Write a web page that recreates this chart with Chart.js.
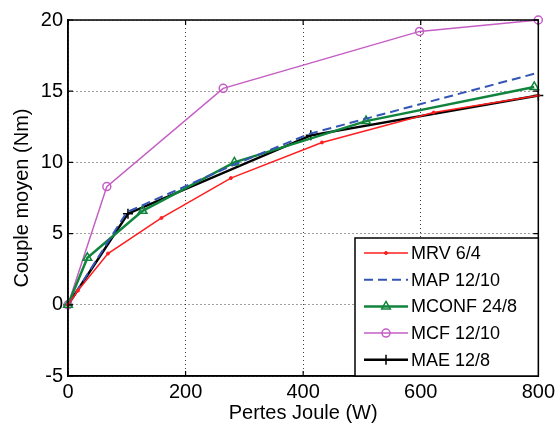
<!DOCTYPE html>
<html>
<head>
<meta charset="utf-8">
<script src="https://cdn.jsdelivr.net/npm/chart.js"></script>
<style>
  html, body { margin: 0; padding: 0; background: #fff; }
  #wrap { width: 559px; height: 425px; }
</style>
</head>
<body>
<div id="wrap"><canvas id="c" width="559" height="425"></canvas></div>
<script>
// values
var labels = ['MRV 6/4', 'MAP 12/10', 'MCONF 24/8', 'MCF 12/10', 'MAE 12/8'];

var mrvX = [0, 17, 68, 159, 277, 432, 622, 800];
var mrvY = [0, 1.0, 3.6, 6.1, 8.9, 11.4, 13.5, 14.7];

var mapX = [0, 100, 280, 410, 600, 800];
var mapY = [0, 6.5, 9.8, 12.0, 14.1, 16.3];

var mconfX = [0, 33, 127, 283, 507, 793];
var mconfY = [0, 3.3, 6.6, 10.0, 12.9, 15.3];

var mcfX = [0, 66, 264, 598, 800];
var mcfY = [0, 8.3, 15.2, 19.2, 20];

var maeX = [0, 102, 413, 800];
var maeY = [0, 6.4, 11.9, 14.7];

var xTicks = [0, 200, 400, 600, 800];
var yTicks = [-5, 0, 5, 10, 15, 20];

function pts(xs, ys) {
  return xs.map(function (x, i) { return { x: x, y: ys[i] }; });
}

var FONT = 'Liberation Sans, Arial, sans-serif';

var datasets = [
  { label: labels[0], data: pts(mrvX, mrvY), borderColor: '#ff1e1e', backgroundColor: '#ff1e1e',
    borderWidth: 1.5, pointStyle: 'circle', pointRadius: 1.5, pointBorderWidth: 1 },
  { label: labels[1], data: pts(mapX, mapY), borderColor: '#3355b5', backgroundColor: '#3355b5',
    borderWidth: 2, borderDash: [9, 5], pointRadius: 0 },
  { label: labels[2], data: pts(mconfX, mconfY), borderColor: '#10843c', backgroundColor: 'rgba(255,255,255,0)',
    borderWidth: 2.5, pointStyle: 'triangle', pointRadius: 5, pointBorderWidth: 1.5 },
  { label: labels[3], data: pts(mcfX, mcfY), borderColor: '#c45ec4', backgroundColor: 'rgba(255,255,255,0)',
    borderWidth: 1.5, pointStyle: 'circle', pointRadius: 4, pointBorderWidth: 1.5 },
  { label: labels[4], data: pts(maeX, maeY), borderColor: '#000000', backgroundColor: '#000000',
    borderWidth: 2.5, pointStyle: 'cross', pointRadius: 5, pointBorderWidth: 1.5 }
];
datasets.forEach(function (d) { d.tension = 0; d.clip = false; d.fill = false; });

// frame with inward ticks, like the original figure
var framePlugin = {
  id: 'frame',
  afterDatasetsDraw: function (chart) {
    var ctx = chart.ctx, a = chart.chartArea;
    var sx = chart.scales.x, sy = chart.scales.y;
    ctx.save();
    ctx.strokeStyle = '#000';
    ctx.lineWidth = 1.5;
    ctx.strokeRect(a.left, a.top, a.right - a.left, a.bottom - a.top);
    ctx.lineWidth = 1.2;
    ctx.beginPath();
    xTicks.forEach(function (t) {
      var px = sx.getPixelForValue(t);
      ctx.moveTo(px, a.bottom); ctx.lineTo(px, a.bottom - 5);
      ctx.moveTo(px, a.top); ctx.lineTo(px, a.top + 5);
    });
    yTicks.forEach(function (t) {
      var py = sy.getPixelForValue(t);
      ctx.moveTo(a.left, py); ctx.lineTo(a.left + 5, py);
      ctx.moveTo(a.right, py); ctx.lineTo(a.right - 5, py);
    });
    ctx.stroke();
    ctx.restore();
  }
};

// boxed legend in the lower right corner
var legendPlugin = {
  id: 'boxLegend',
  afterDraw: function (chart) {
    var ctx = chart.ctx, a = chart.chartArea;
    var x0 = 355, y0 = 238, x1 = a.right, y1 = a.bottom;
    ctx.save();
    ctx.fillStyle = '#fff';
    ctx.fillRect(x0, y0, x1 - x0, y1 - y0);
    ctx.strokeStyle = '#000';
    ctx.lineWidth = 1.5;
    ctx.strokeRect(x0, y0, x1 - x0, y1 - y0);
    chart.data.datasets.forEach(function (d, i) {
      var y = 253 + i * 26.7;
      ctx.save();
      ctx.strokeStyle = d.borderColor;
      ctx.lineWidth = d.borderWidth;
      ctx.setLineDash(d.borderDash || []);
      ctx.beginPath();
      ctx.moveTo(364, y); ctx.lineTo(408, y);
      ctx.stroke();
      ctx.setLineDash([]);
      if (d.pointRadius > 0) {
        ctx.fillStyle = d.backgroundColor;
        ctx.strokeStyle = d.borderColor;
        ctx.lineWidth = d.pointBorderWidth;
        Chart.helpers.drawPoint(ctx, {
          pointStyle: d.pointStyle, radius: d.pointRadius, rotation: 0, borderWidth: d.pointBorderWidth
        }, 386, y);
      }
      ctx.restore();
      ctx.fillStyle = '#000';
      ctx.font = '18px ' + FONT;
      ctx.textBaseline = 'middle';
      ctx.textAlign = 'left';
      ctx.fillText(d.label, 411, y + 1);
    });
    ctx.restore();
  }
};

new Chart(document.getElementById('c'), {
  type: 'line',
  data: { datasets: datasets },
  options: {
    responsive: false,
    animation: false,
    layout: { padding: { top: 20, right: 19, left: 0, bottom: 0 } },
    plugins: {
      legend: { display: false },
      tooltip: { enabled: false }
    },
    scales: {
      x: {
        type: 'linear',
        min: 0, max: 800,
        afterFit: function (s) { s.height = 49; },
        afterBuildTicks: function (s) { s.ticks = xTicks.map(function (v) { return { value: v }; }); },
        ticks: { color: '#000', font: { family: FONT, size: 20 }, padding: 4, maxRotation: 0 },
        grid: { color: 'rgba(0,0,0,0.75)', lineWidth: 1, drawTicks: false },
        border: { display: true, color: '#000', width: 1.5, dash: [1, 3] },
        title: { display: true, text: 'Pertes Joule (W)', color: '#000',
                 font: { family: FONT, size: 20 }, padding: { top: 5, bottom: 0 } }
      },
      y: {
        type: 'linear',
        min: -5, max: 20,
        afterFit: function (s) { s.width = 68; },
        afterBuildTicks: function (s) { s.ticks = yTicks.map(function (v) { return { value: v }; }); },
        ticks: { color: '#000', font: { family: FONT, size: 20 }, padding: 5 },
        grid: { color: 'rgba(0,0,0,0.75)', lineWidth: 1, drawTicks: false },
        border: { display: true, color: '#000', width: 1.5, dash: [1, 3] },
        title: { display: true, text: 'Couple moyen (Nm)', color: '#000',
                 font: { family: FONT, size: 20 }, padding: { top: 10, bottom: 0 } }
      }
    }
  },
  plugins: [framePlugin, legendPlugin]
});
</script>
</body>
</html>
